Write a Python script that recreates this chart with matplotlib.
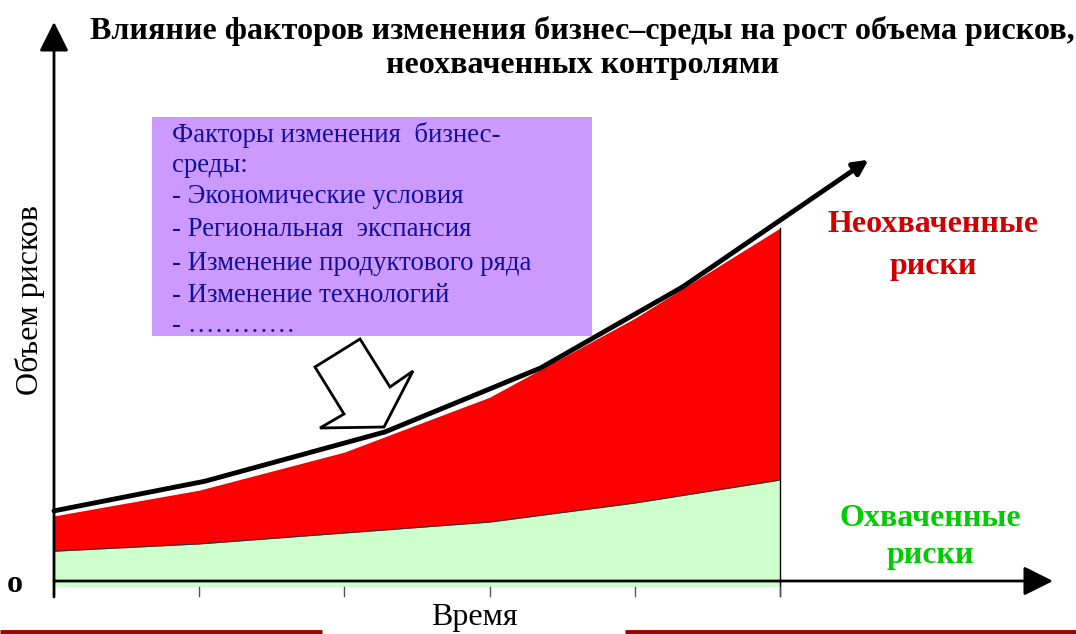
import numpy as np
import matplotlib
matplotlib.use("Agg")
from matplotlib import pyplot as plt
from matplotlib.patches import Polygon, Rectangle

plt.rcParams['font.family'] = ['Liberation Serif', 'DejaVu Serif']

# --- данные (условные единицы) ---
periods = [0, 1, 2, 3, 4, 5]
covered = [0.55, 0.68, 0.875, 1.07, 1.41, 1.82]      # охваченные риски
total = [1.18, 1.64, 2.32, 3.30, 4.71, 6.32]         # весь объем рисков
trend_x = [0, 1.04, 2.28, 3.35, 4.33, 5.61]
trend_y = [1.27, 1.80, 2.68, 3.82, 5.27, 7.54]
factors = ["Факторы изменения  бизнес-", "среды:",
           "- Экономические условия", "- Региональная  экспансия",
           "- Изменение продуктового ряда", "- Изменение технологий",
           "- …………"]

W, H = 1076, 634
X0, Y0, SX, SY = 54, 582, 145.2, 56.0


def px(x, y):
    # пиксели картинки -> координаты данных
    return (x - X0) / SX, (Y0 - y) / SY


fig = plt.figure(figsize=(W / 100, H / 100), dpi=100)
ax = fig.add_axes([0, 0, 1, 1])
ax.set_xlim(px(0, 0)[0], px(W, 0)[0])
ax.set_ylim(px(0, H)[1], px(0, 0)[1])
ax.axis('off')

# области
ax.fill_between(periods, -0.08, covered, color='#CCFFCC', lw=0)
ax.fill_between(periods, covered, total, color='#FF0000', lw=0)
ax.plot(periods, covered, color='#333333', lw=0.8)
ax.plot([5, 5], [-0.25, total[-1]], color='black', lw=1)

# тренд
ax.plot(trend_x[:-1], trend_y[:-1], color='black', lw=3.5, solid_capstyle='round')
ax.annotate('', xy=(trend_x[-1], trend_y[-1]), xytext=(trend_x[-2], trend_y[-2]),
            arrowprops=dict(arrowstyle='-|>', color='black', lw=3.5,
                            mutation_scale=22, shrinkA=0, shrinkB=0))

# оси
axis_arrow = dict(arrowstyle='-|>,head_length=0.6,head_width=0.3', color='black', lw=2,
                  mutation_scale=30, shrinkA=0, shrinkB=0)
ax.annotate('', xy=px(1053, Y0 - 1), xytext=px(X0, Y0 - 1), arrowprops=axis_arrow)
ax.annotate('', xy=px(X0, 22), xytext=px(X0, 597), arrowprops=axis_arrow)
for p in periods[1:]:
    ax.plot([p, p], [-0.09, -0.25], color='#555555', lw=1)

# блок с факторами
bx0, by0 = px(152, 336)
bx1, by1 = px(592, 117)
ax.add_patch(Rectangle((bx0, by0), bx1 - bx0, by1 - by0, color='#CC99FF', lw=0))
line_y = [135, 166, 197, 230, 263, 296, 326]
for s, yy in zip(factors, line_y):
    ax.text(*px(172, yy), s, fontsize=19.3, color='#10109A', va='center', ha='left')

# стрелка-указатель
arrow_pts = [px(315, 367), px(360, 339), px(390, 387), px(413, 371),
             px(384, 427), px(320, 428), px(344, 414)]
ax.add_patch(Polygon(arrow_pts, closed=True, facecolor='white', edgecolor='black', lw=2))

# подписи
fig.text(582 / W, 1 - 31 / H, "Влияние факторов изменения бизнес–среды на рост объема рисков,",
         fontsize=23.1, fontweight='bold', ha='center', va='center')
fig.text(583 / W, 1 - 66 / H, "неохваченных контролями",
         fontsize=23.1, fontweight='bold', ha='center', va='center')
ax.text(*px(933, 225), "Неохваченные", fontsize=23, fontweight='bold',
        color='#D00000', ha='center', va='center')
ax.text(*px(933, 267), "риски", fontsize=23, fontweight='bold',
        color='#D00000', ha='center', va='center')
ax.text(*px(930, 519), "Охваченные", fontsize=23, fontweight='bold',
        color='#00CC00', ha='center', va='center')
ax.text(*px(930, 555), "риски", fontsize=23, fontweight='bold',
        color='#00CC00', ha='center', va='center')
ax.text(*px(30, 300), "Объем рисков", fontsize=23, rotation=90, ha='center', va='center')
ax.text(*px(474, 617), "Время", fontsize=23, ha='center', va='center')
ax.text(*px(15, 584), "о", fontsize=23, fontweight='bold', ha='center', va='center')

# красные полосы внизу
ax.plot([px(0, 0)[0], px(322, 0)[0]], [px(0, 632)[1]] * 2, color='#A00000', lw=3.5,
        solid_capstyle='butt')
ax.plot([px(625, 0)[0], px(W, 0)[0]], [px(0, 632)[1]] * 2, color='#A00000', lw=3.5,
        solid_capstyle='butt')

fig.savefig("out.png", dpi=100)
